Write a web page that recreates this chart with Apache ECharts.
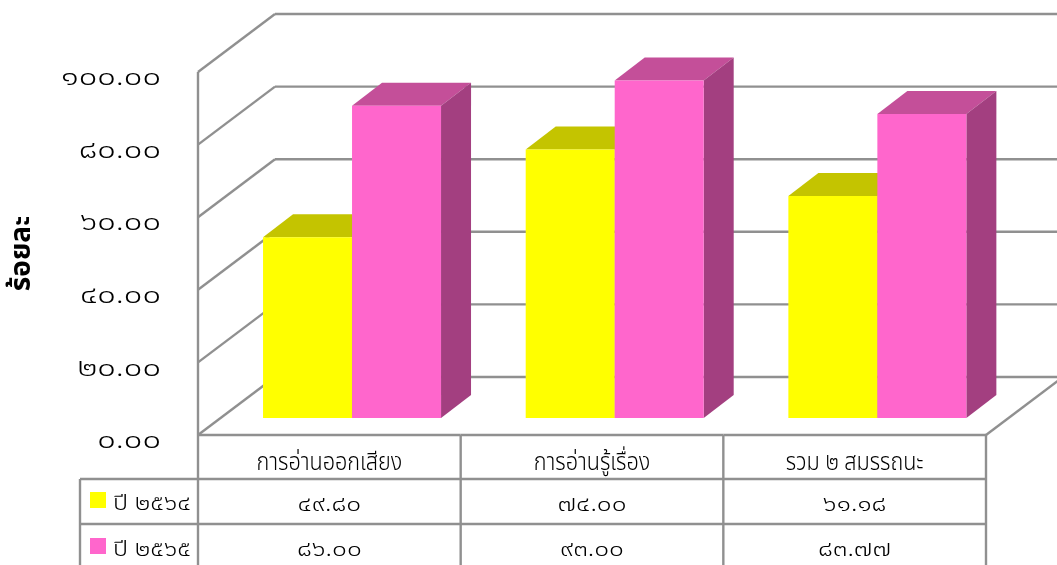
<!DOCTYPE html>
<html><head><meta charset="utf-8">
<style>html,body{margin:0;padding:0;background:#fff;overflow:hidden}#c{width:1057px;height:565px}</style>
<script src="https://cdn.jsdelivr.net/npm/echarts@6/dist/echarts.min.js"></script>
</head><body><div id="c"></div>
<script>
const categories = ['การอ่านออกเสียง','การอ่านรู้เรื่อง','รวม ๒ สมรรถนะ'];
const seriesNames = ['ปี ๒๕๖๔','ปี ๒๕๖๕'];
const values2564 = [49.80,74.00,61.18];
const values2565 = [86.00,93.00,83.77];
const gridTicks = [0,20,40,60,80,100];
const yTitle = 'ร้อยละ';

const FONT = '"Noto Sans","Noto Sans Thai","Liberation Sans","DejaVu Sans",sans-serif';
const LINE = '#909090';
const COLORS = [
  {front:'#FFFF00',top:'#C4C400',side:'#A3A300'},
  {front:'#FF66CC',top:'#C44F99',side:'#A33F80'}
];
const DX=77, DY=58;
const BOY=17;
const BW=89, BDX=30, BDY=23;

const thai = s => String(s).replace(/[0-9]/g, d => '๐๑๒๓๔๕๖๗๘๙'[+d]);
const fmt = v => thai(v.toFixed(2));
const line = (x1,y1,x2,y2) => ({type:'line',shape:{x1,y1,x2,y2},style:{stroke:LINE,lineWidth:2.4,fill:null}});
const stretched = (x,y,t,size,align,sx,weight) => ({type:'text',x,y,scaleX:sx,
  style:{x:0,y:0,text:t,fontFamily:FONT,fontSize:size,fontWeight:weight||300,fill:'#000',align,verticalAlign:'middle'}});

function barSeries(name, vals, k){
  return {
    type:'custom', name, z:5, clip:false,
    data: vals.map((v,i)=>[i,v]),
    encode:{x:0,y:1},
    renderItem(params, api){
      const i=api.value(0), v=api.value(1);
      const left=api.coord([i,0])[0]-66.3+k*BW;
      const base=api.coord([i,0])[1]-BOY;
      const top=api.coord([i,v])[1]-BOY;
      const c=COLORS[k], r=left+BW;
      const poly=(points,fill)=>({type:'polygon',shape:{points},style:{fill,stroke:null}});
      return {type:'group',children:[
        poly([[left,top],[left+BDX,top-BDY],[r+BDX,top-BDY],[r,top]],c.top),
        poly([[r,top],[r+BDX,top-BDY],[r+BDX,base-BDY],[r,base]],c.side),
        {type:'rect',shape:{x:left,y:top,width:BW,height:base-top},style:{fill:c.front}}
      ]};
    }
  };
}

const option = {
  animation:false,
  backgroundColor:'#fff',
  textStyle:{fontFamily:FONT},
  grid:{left:198,top:72,width:788,height:363,containLabel:false,outerBoundsMode:'none'},
  xAxis:{type:'category',data:categories,axisLine:{show:false},axisTick:{show:false},axisLabel:{show:false},splitLine:{show:false}},
  yAxis:{type:'value',min:0,max:100,interval:20,
    name:yTitle,nameLocation:'middle',nameRotate:90,nameGap:162,
    nameTextStyle:{fontFamily:FONT,fontSize:28,fontWeight:'bold',color:'#000'},
    axisLine:{show:false},axisTick:{show:false},splitLine:{show:false},
    axisLabel:{show:false}},
  series:[
    {type:'custom',name:'walls',z:1,clip:false,silent:true,
     data:gridTicks.map(v=>[0,v]),encode:{x:0,y:1},
     renderItem(params,api){
       const v=api.value(1);
       const [x,y]=api.coord([0,v]);
       const band=api.size([1,0])[0];
       const L=x-band/2, R=L+band*3;
       const ch=[line(L,y,L+DX,y-DY),line(L+DX,y-DY,R+DX,y-DY),
         stretched(L-37,y+6,fmt(v),25,'right',1.31)];
       if(v===0){
         ch.push(line(R,y,R+DX,y-DY));
         const top=api.coord([0,100])[1];
         ch.push(line(L,y,L,top));
       }
       return {type:'group',children:ch};
     }},
    barSeries(seriesNames[0],values2564,0),
    barSeries(seriesNames[1],values2565,1),
    {type:'custom',name:'table',z:6,clip:false,silent:true,
     data:categories.map((c,i)=>[i,0]),encode:{x:0,y:1},
     renderItem(params,api){
       const i=api.value(0);
       const [cx,y0]=api.coord([i,0]);
       const band=api.size([1,0])[0];
       const L=cx-band/2,R=cx+band/2;
       const r1=y0+44,r2=y0+89,r3=y0+134;
       const ch=[line(L,y0,R,y0),line(L,r1,R,r1),line(L,r2,R,r2),line(R,y0,R,r3),
         stretched(cx,y0+28,categories[i],24,'center',0.9),
         stretched(cx,y0+70,fmt(values2564[i]),21,'center',1.25),
         stretched(cx,y0+115,fmt(values2565[i]),21,'center',1.25)];
       if(i===0){
         const hl=L-118;
         ch.push(line(L,y0,L,r3),line(hl,r1,L,r1),line(hl,r2,L,r2),line(hl,r1,hl,r3));
         ch.push({type:'rect',shape:{x:hl+10,y:r1+13,width:16,height:16},style:{fill:COLORS[0].front}});
         ch.push({type:'rect',shape:{x:hl+10,y:r2+14,width:16,height:16},style:{fill:COLORS[1].front}});
         ch.push(stretched(hl+33,y0+69,seriesNames[0],21,'left',1.2));
         ch.push(stretched(hl+33,y0+115,seriesNames[1],21,'left',1.2));
       }
       return {type:'group',children:ch};
     }}
  ]
};
echarts.init(document.getElementById('c'),null,{renderer:'canvas'}).setOption(option);
</script></body></html>
